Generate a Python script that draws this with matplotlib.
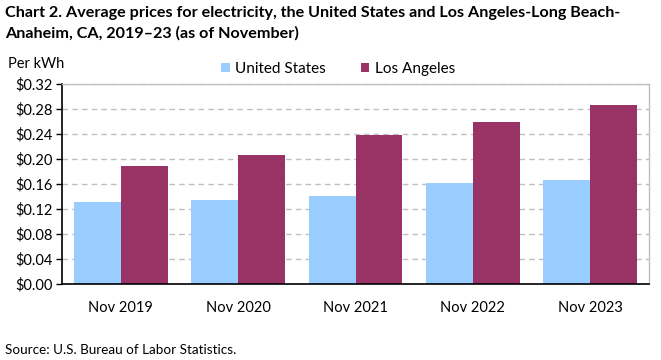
import matplotlib
matplotlib.use('Agg')

import matplotlib.pyplot as plt
import numpy as np

plt.rcParams['font.family'] = ['Lato', 'DejaVu Sans']

# data
categories = ['Nov 2019', 'Nov 2020', 'Nov 2021', 'Nov 2022', 'Nov 2023']
us_prices = [0.132, 0.135, 0.141, 0.162, 0.167]
la_prices = [0.189, 0.207, 0.239, 0.260, 0.287]
y_ticks = [0.00, 0.04, 0.08, 0.12, 0.16, 0.20, 0.24, 0.28, 0.32]

COLOR_US = '#99ccff'
COLOR_LA = '#993366'
COLOR_GRID = '#bfbfbf'

fig = plt.figure(figsize=(6.61, 3.6), dpi=100)
ax = fig.add_axes([62 / 661, 1 - 284 / 360, 587 / 661, 200 / 360])

x = np.arange(len(categories))
w = 0.4
ax.bar(x - w / 2, us_prices, width=w, color=COLOR_US, label='United States', zorder=2)
ax.bar(x + w / 2, la_prices, width=w, color=COLOR_LA, label='Los Angeles', zorder=2)

ax.set_xlim(-0.5, len(categories) - 0.5)
ax.set_ylim(0, 0.32)
ax.set_yticks(y_ticks)
ax.set_yticklabels([f'${v:.2f}' for v in y_ticks], fontsize=10.5)
ax.set_xticks(x)
ax.set_xticklabels(categories, fontsize=10.5)
ax.tick_params(axis='x', length=0, pad=12)
ax.tick_params(axis='y', length=4, width=1, direction='out', pad=3)

ax.grid(axis='y', color=COLOR_GRID, linestyle=(0, (4, 3)), linewidth=1, zorder=0)
ax.set_axisbelow(True)

for side in ['top', 'right']:
    ax.spines[side].set_color(COLOR_GRID)
    ax.spines[side].set_linewidth(1)
for side in ['left', 'bottom']:
    ax.spines[side].set_color('black')
    ax.spines[side].set_linewidth(1.2)

fig.text(0.008, 1 - 6 / 360,
         'Chart 2. Average prices for electricity, the United States and Los Angeles-Long Beach-\n'
         'Anaheim, CA, 2019\u201323 (as of November)',
         fontsize=11.6, fontweight='bold', va='top', ha='left', linespacing=1.5)
fig.text(8 / 661, 1 - 64 / 360, 'Per kWh', fontsize=10.5, va='center', ha='left')

fig.legend(loc='center', bbox_to_anchor=(338 / 661, 1 - 69 / 360), ncol=2,
           frameon=False, fontsize=11, handlelength=0.55, handleheight=0.55,
           handletextpad=0.35, columnspacing=2.3)

fig.text(5 / 661, 1 - 350 / 360, 'Source: U.S. Bureau of Labor Statistics.',
         fontsize=9.7, va='center', ha='left')

fig.savefig('out.png', dpi=100, facecolor='white')
plt.close(fig)
